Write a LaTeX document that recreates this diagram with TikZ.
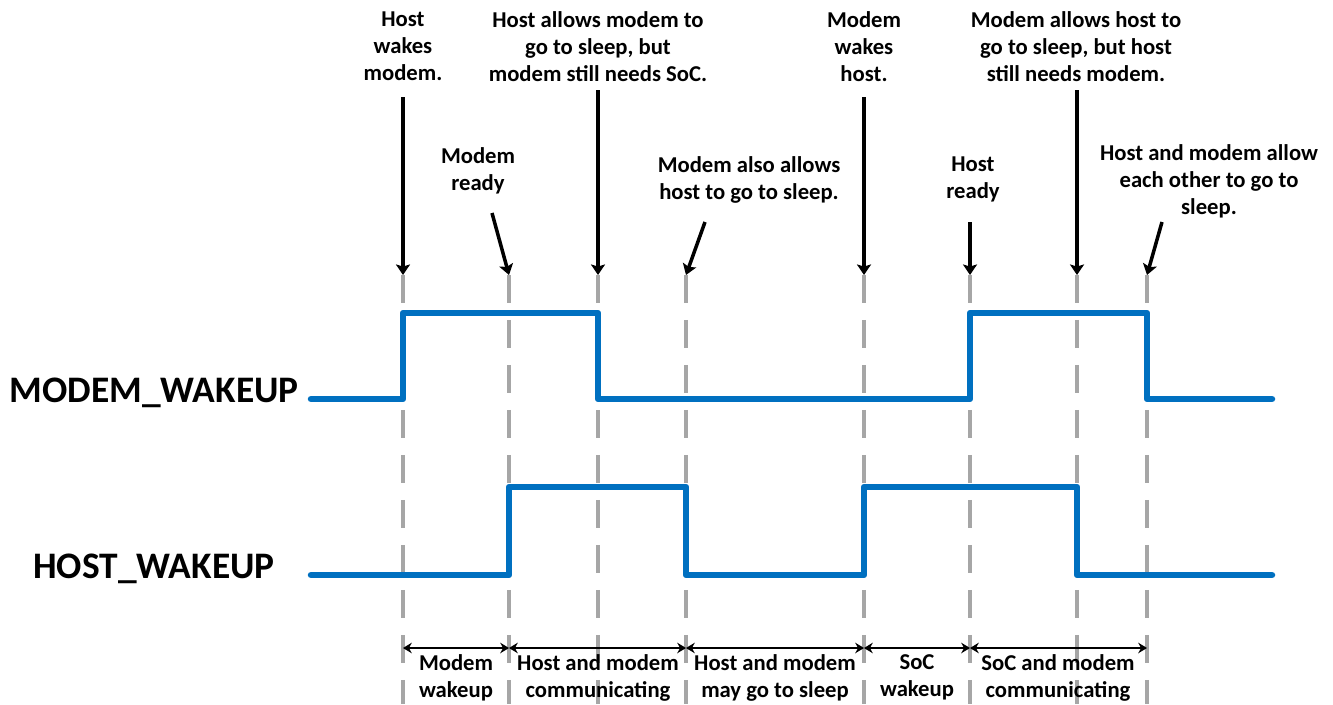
\documentclass[tikz,border=0pt]{standalone}
\usepackage{fontspec}
\setmainfont{Carlito}
\usetikzlibrary{arrows.meta}

\definecolor{wireblue}{HTML}{0070C0}
\definecolor{gridgray}{HTML}{A6A6A6}

\tikzset{
  wave/.style={line width=3.7pt, color=wireblue, line join=round, line cap=round},
  guide/.style={line width=2pt, color=gridgray, dash pattern=on 15.9pt off 9.7pt},
  pointer/.style={line width=2pt, -{Stealth[length=6pt,width=8pt,inset=1.2pt]}},
  phase/.style={line width=1.4pt, {Stealth[length=5pt,width=6pt]}-{Stealth[length=5pt,width=6pt]}},
  note/.style={font=\bfseries\fontsize{12.9}{15.4}\selectfont, align=center, inner sep=0pt, anchor=north},
  signame/.style={font=\bfseries\fontsize{21.3}{24}\selectfont, inner sep=0pt, anchor=base east},
}

\begin{document}
\begin{tikzpicture}[x=0.02cm, y=-0.02cm]
			%%%%% START %%%%%
			\useasboundingbox (0,0) rectangle (1333,704);
			
			% time marks
			\coordinate (t1) at (403,275);
			\coordinate (t2) at (509,275);
			\coordinate (t3) at (598,275);
			\coordinate (t4) at (686,275);
			\coordinate (t5) at (864,275);
			\coordinate (t6) at (970,275);
			\coordinate (t7) at (1077,275);
			\coordinate (t8) at (1147,275);
			
			\coordinate (e1) at (403,704);
			\coordinate (e2) at (509,704);
			\coordinate (e3) at (598,704);
			\coordinate (e4) at (686,704);
			\coordinate (e5) at (864,704);
			\coordinate (e6) at (970,704);
			\coordinate (e7) at (1077,704);
			\coordinate (e8) at (1147,704);
			
			\draw[guide] (t1) -- (e1);
			\draw[guide] (t2) -- (e2);
			\draw[guide] (t3) -- (e3);
			\draw[guide] (t4) -- (e4);
			\draw[guide] (t5) -- (e5);
			\draw[guide] (t6) -- (e6);
			\draw[guide] (t7) -- (e7);
			\draw[guide] (t8) -- (e8);
			
			% signals
			\node[signame] (modemsig) at (299,402) {MODEM\_WAKEUP};
			\node[signame] (hostsig) at (275,578) {HOST\_WAKEUP};
			
			\draw[wave] (311,399) -- (403,399) -- (403,313) -- (598,313) -- (598,399) -- (970,399) -- (970,313) -- (1147,313) -- (1147,399) -- (1272,399);
			\draw[wave] (311,575) -- (509,575) -- (509,487) -- (686,487) -- (686,575) -- (864,575) -- (864,487) -- (1077,487) -- (1077,575) -- (1272,575);
			
			% events
			\node[note] (hostwakes) at (403,11) {Host\\wakes\\modem.};
			\node[note] (hostallows) at (598,11) {Host allows modem to\\go to sleep, but\\modem still needs SoC.};
			\node[note] (modemready) at (478,147) {Modem\\ready};
			\node[note] (modemalso) at (749,156) {Modem also allows\\host to go to sleep.};
			\node[note] (modemwakes) at (864,11) {Modem\\wakes\\host.};
			\node[note] (hostready) at (973,156) {Host\\ready};
			\node[note] (modemallows) at (1076,11) {Modem allows host to\\go to sleep, but host\\still needs modem.};
			\node[note] (bothallow) at (1209,144) {Host and modem allow\\each other to go to\\sleep.};
			
			\coordinate (p1) at (403,97);
			\coordinate (p2) at (492,213);
			\coordinate (p3) at (598,90);
			\coordinate (p4) at (705,222);
			\coordinate (p5) at (864,97);
			\coordinate (p6) at (970,222);
			\coordinate (p7) at (1077,90);
			\coordinate (p8) at (1162,222);
			
			\draw[pointer] (p1) -- (t1);
			\draw[pointer] (p2) -- (t2);
			\draw[pointer] (p3) -- (t3);
			\draw[pointer] (p4) -- (t4);
			\draw[pointer] (p5) -- (t5);
			\draw[pointer] (p6) -- (t6);
			\draw[pointer] (p7) -- (t7);
			\draw[pointer] (p8) -- (t8);
			
			% phases
			\coordinate (m1) at (403,648);
			\coordinate (m2) at (509,648);
			\coordinate (m3) at (686,648);
			\coordinate (m4) at (864,648);
			\coordinate (m5) at (970,648);
			\coordinate (m6) at (1147,648);
			
			\draw[phase] (m1) -- (m2);
			\draw[phase] (m2) -- (m3);
			\draw[phase] (m3) -- (m4);
			\draw[phase] (m4) -- (m5);
			\draw[phase] (m5) -- (m6);
			
			\node[note] (wakeup1) at (456,654) {Modem\\wakeup};
			\node[note] (comm1) at (598,654) {Host and modem\\communicating};
			\node[note] (sleep1) at (775,654) {Host and modem\\may go to sleep};
			\node[note] (wakeup2) at (917,654) {SoC\\wakeup};
			\node[note] (comm2) at (1058,654) {SoC and modem\\communicating};
			
			%%%%% END %%%%%
\end{tikzpicture}
\end{document}
